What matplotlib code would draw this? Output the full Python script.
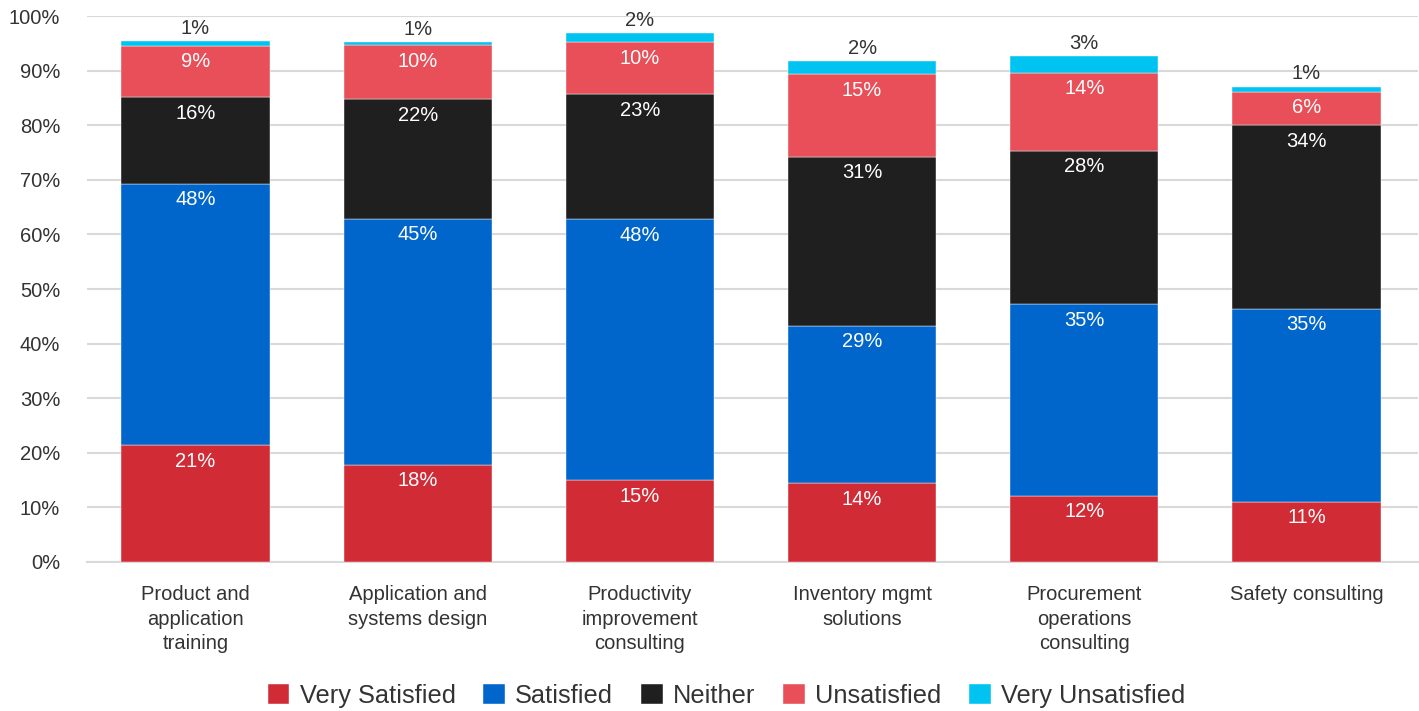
import numpy as np
import matplotlib.pyplot as plt

plt.rcParams['font.family'] = ['Liberation Sans', 'DejaVu Sans']

categories = ['Product and\napplication\ntraining', 'Application and\nsystems design',
              'Productivity\nimprovement\nconsulting', 'Inventory mgmt\nsolutions',
              'Procurement\noperations\nconsulting', 'Safety consulting']

very_satisfied = [21.4, 17.8, 14.9, 14.4, 12.1, 11.0]
satisfied = [47.9, 45.1, 47.9, 28.9, 35.1, 35.4]
neither = [15.9, 21.9, 22.9, 31.0, 28.2, 33.6]
unsatisfied = [9.4, 9.9, 9.6, 15.1, 14.3, 6.2]
very_unsatisfied = [0.9, 0.6, 1.6, 2.4, 3.0, 0.9]

series = [
    ('Very Satisfied', very_satisfied, '#d12b36'),
    ('Satisfied', satisfied, '#0066cc'),
    ('Neither', neither, '#1f1f1f'),
    ('Unsatisfied', unsatisfied, '#e84f58'),
    ('Very Unsatisfied', very_unsatisfied, '#00c3f2'),
]

fig = plt.figure(figsize=(14.19, 7.11), dpi=100)
ax = fig.add_axes([0.061, 0.21, 0.938, 0.767])

x = np.arange(len(categories))
bottom = np.zeros(len(categories))
for name, vals, color in series:
    vals = np.array(vals)
    ax.bar(x, vals, 0.667, bottom=bottom, color=color, label=name,
           edgecolor='#ffffff', linewidth=0.3, zorder=3)
    top = bottom + vals
    for xi, t, v in zip(x, top, vals):
        txt = '{:.0f}%'.format(v)
        if name == 'Very Unsatisfied':
            ax.text(xi, t + 0.6, txt, ha='center', va='bottom', fontsize=14.5, color='#333333')
        else:
            ax.text(xi, t - 1.2, txt, ha='center', va='top', fontsize=14.5, color='white')
    bottom = top

ax.set_ylim(0, 100)
ax.set_xlim(-0.49, 5.5)
ax.set_yticks(np.arange(0, 101, 10))
ax.set_yticklabels(['{}%'.format(v) for v in range(0, 101, 10)], fontsize=14.5, color='#333333')
ax.set_xticks(x)
ax.set_xticklabels(categories, fontsize=14.5, color='#333333', linespacing=1.35)
ax.tick_params(axis='y', length=0, pad=19)
ax.tick_params(axis='x', length=0, pad=17)
ax.yaxis.grid(True, color='#d9d9d9', linewidth=1.5, zorder=0)
for s in ['top', 'right', 'left']:
    ax.spines[s].set_visible(False)
ax.spines['bottom'].set_color('#d9d9d9')
ax.spines['bottom'].set_linewidth(1.5)
ax.set_axisbelow(True)

fig.legend(loc='lower center', bbox_to_anchor=(0.512, -0.028), ncol=5, frameon=False,
           fontsize=18.3, handlelength=0.85, handleheight=0.85, handletextpad=0.4,
           columnspacing=1.1, labelcolor='#333333')

fig.savefig('out.png', dpi=100)
